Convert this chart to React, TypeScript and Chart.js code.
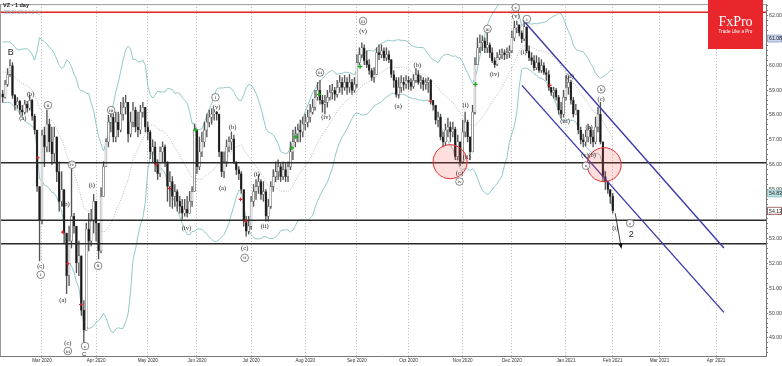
import React, { useEffect, useRef } from "react";
import { Chart, registerables } from "chart.js";
Chart.register(...registerables);

// ---- DATA ----
const priorCloses = [59.3, 59.6, 60.1, 60.5, 60.8, 60.4, 60.0, 59.5, 59.1, 59.4, 59.9, 60.3, 60.7, 60.2, 59.6, 59.2, 59.0, 58.9, 59.3];
const firstOpen = 58.85;
const closes = [
  58.71, 59.23, 59.63, 59.99, 58.79, 58.39, 58.55, 58.19, 58.11, 58.43,
  58.27, 58.59, 57.95, 57.39, 55.11, 53.75, 57.19, 56.71, 57.63, 56.91,
  56.43, 57.11, 55.71, 54.51, 54.99, 53.23, 51.51, 52.91, 53.91, 53.51,
  52.03, 52.31, 50.11, 49.31, 53.39, 52.91, 53.71, 54.51, 53.63, 52.51,
  54.71, 55.91, 56.91, 57.71, 57.91, 57.11, 57.71, 57.39, 58.03, 58.31,
  58.51, 57.23, 57.71, 58.19, 57.51, 57.39, 58.11, 58.31, 57.51, 57.31,
  56.51, 56.71, 56.03, 55.63, 56.51, 56.71, 56.11, 55.11, 55.31, 54.71,
  54.91, 54.51, 54.31, 54.03, 54.19, 54.03, 54.51, 54.91, 57.39, 55.91,
  56.51, 56.91, 57.39, 57.71, 57.91, 58.03, 58.11, 58.03, 56.51, 55.71,
  56.11, 56.71, 56.91, 57.03, 56.11, 55.79, 55.63, 54.99, 53.71, 53.31,
  53.51, 54.51, 54.91, 55.11, 55.31, 54.79, 54.91, 53.91, 54.31, 55.11,
  55.51, 55.71, 55.91, 55.51, 55.79, 55.51, 55.91, 56.51, 56.91, 57.23,
  57.39, 57.31, 57.63, 57.71, 57.91, 58.11, 58.31, 58.71, 58.99, 58.59,
  58.43, 58.51, 58.71, 58.91, 58.99, 58.83, 59.11, 59.31, 59.11, 59.31,
  59.11, 59.31, 58.99, 59.23, 60.11, 60.43, 60.71, 60.19, 60.03, 59.79,
  59.51, 59.63, 60.51, 60.43, 60.59, 60.31, 60.43, 60.23, 59.63, 59.39,
  58.83, 59.11, 59.31, 59.23, 59.39, 59.31, 59.15, 59.39, 59.63, 59.31,
  59.39, 59.23, 59.31, 59.39, 58.59, 58.39, 57.79, 57.91, 57.11, 56.91,
  57.39, 57.51, 57.31, 57.43, 56.31, 56.91, 56.11, 57.31, 57.71, 57.11,
  56.51, 58.11, 60.03, 60.71, 60.91, 60.99, 60.71, 60.83, 60.51, 60.19,
  60.03, 60.31, 60.43, 60.51, 60.43, 60.51, 60.59, 61.11, 61.51, 61.63,
  61.31, 61.07, 61.55, 60.59, 60.31, 60.19, 59.91, 60.11, 59.79, 59.99,
  59.71, 59.63, 59.11, 58.91, 58.99, 58.71, 58.19, 58.03, 58.71, 59.11,
  59.31, 58.59, 58.03, 58.19, 57.39, 56.99, 56.91, 57.11, 57.39, 57.11,
  56.91, 57.51, 58.03, 56.91, 55.51, 55.31, 54.99, 54.71, 54.13
];
const highs = [
  58.99, 59.39, 59.87, 60.23, 60.11, 58.83, 58.71, 58.59, 58.39, 58.59,
  58.55, 58.79, 58.63, 58.03, 57.31, 54.31, 57.39, 57.51, 58.19, 57.83,
  57.51, 57.51, 57.11, 56.11, 55.71, 54.31, 52.91, 53.51, 55.83, 54.03,
  53.51, 52.91, 51.31, 50.51, 53.63, 54.03, 54.19, 54.79, 54.51, 53.39,
  55.07, 56.11, 57.03, 57.99, 58.19, 58.03, 58.11, 58.11, 58.51, 58.71,
  58.79, 58.51, 58.11, 58.51, 58.31, 58.11, 58.39, 58.51, 58.31, 57.71,
  57.39, 56.99, 56.91, 56.19, 56.71, 56.91, 56.79, 56.11, 55.71, 55.51,
  55.19, 54.99, 54.71, 54.59, 54.59, 54.71, 54.91, 55.11, 57.63, 57.31,
  57.11, 57.31, 57.71, 58.03, 58.19, 58.25, 58.2, 58.15, 57.91, 56.51,
  56.51, 56.99, 57.11, 57.31, 57.19, 56.11, 55.91, 55.71, 54.71, 53.91,
  53.91, 54.71, 55.19, 55.39, 55.59, 55.39, 55.31, 54.99, 54.59, 55.31,
  55.79, 56.11, 56.19, 56.03, 56.11, 56.03, 56.11, 56.91, 57.39, 57.51,
  57.63, 57.79, 57.91, 58.03, 58.19, 58.43, 58.63, 58.99, 59.31, 59.39,
  58.79, 58.79, 58.99, 59.19, 59.23, 59.11, 59.39, 59.59, 59.51, 59.59,
  59.51, 59.63, 59.43, 59.51, 60.43, 60.71, 60.91, 60.83, 60.59, 60.23,
  59.87, 59.91, 60.71, 60.83, 60.83, 60.71, 60.71, 60.59, 60.03, 59.79,
  59.51, 59.51, 59.59, 59.51, 59.59, 59.55, 59.47, 59.63, 59.87, 59.79,
  59.59, 59.51, 59.47, 59.51, 59.43, 58.59, 58.19, 58.11, 58.03, 57.31,
  57.63, 57.87, 57.71, 57.71, 57.51, 57.19, 56.91, 57.79, 58.11, 57.79,
  57.11, 58.39, 60.31, 61.11, 61.23, 61.19, 61.11, 61.31, 60.91, 60.71,
  60.31, 60.51, 60.63, 60.67, 60.63, 60.71, 60.79, 61.39, 61.79, 61.79,
  61.63, 61.39, 61.75, 61.47, 60.79, 60.51, 60.39, 60.39, 60.31, 60.23,
  60.11, 59.87, 59.79, 59.11, 59.11, 59.07, 58.79, 58.51, 58.99, 59.59,
  59.55, 59.39, 58.71, 58.43, 58.19, 57.51, 57.23, 57.39, 57.63, 57.51,
  57.39, 57.91, 58.31, 58.51, 56.71, 55.71, 55.31, 54.99, 54.83
];
const lows = [
  58.51, 58.67, 59.15, 59.55, 58.67, 58.19, 58.27, 58.03, 57.95, 58.03,
  58.11, 58.19, 57.79, 57.23, 54.91, 52.11, 53.6, 55.91, 56.51, 56.51,
  55.99, 56.11, 55.31, 54.11, 54.31, 52.79, 50.79, 51.11, 52.63, 53.23,
  51.63, 51.51, 49.91, 48.83, 49.71, 52.51, 52.71, 53.23, 52.91, 52.19,
  52.43, 54.71, 55.91, 56.71, 57.31, 56.91, 56.91, 57.11, 57.31, 57.79,
  58.03, 56.91, 57.11, 57.51, 57.31, 57.11, 57.23, 57.91, 57.31, 56.99,
  56.23, 56.11, 55.71, 55.39, 55.51, 56.11, 55.91, 54.51, 54.31, 54.23,
  54.31, 54.11, 54.03, 53.79, 53.91, 53.87, 54.11, 54.31, 54.91, 55.63,
  55.79, 56.31, 56.71, 57.11, 57.51, 57.63, 57.79, 57.79, 56.31, 55.51,
  55.47, 55.91, 56.51, 56.59, 56.03, 55.59, 55.39, 54.83, 53.51, 53.11,
  53.19, 53.39, 54.31, 54.59, 54.83, 54.59, 54.51, 53.71, 53.71, 54.23,
  54.91, 55.31, 55.39, 55.31, 55.39, 55.31, 55.31, 55.79, 56.19, 56.71,
  56.91, 56.91, 57.11, 57.39, 57.51, 57.71, 58.03, 58.19, 58.59, 58.43,
  58.11, 58.03, 58.31, 58.59, 58.63, 58.59, 58.71, 58.91, 58.83, 58.99,
  58.83, 58.91, 58.83, 58.91, 59.11, 60.03, 60.31, 60.03, 59.91, 59.63,
  59.39, 59.31, 59.63, 60.23, 60.31, 60.19, 60.19, 60.11, 59.51, 59.11,
  58.71, 58.67, 58.91, 58.99, 59.07, 59.03, 58.99, 59.07, 59.31, 59.23,
  59.07, 58.99, 59.03, 58.91, 58.43, 58.19, 57.63, 57.51, 56.99, 56.71,
  56.79, 57.11, 56.91, 57.11, 56.19, 56.19, 55.95, 56.03, 57.11, 56.91,
  56.19, 56.51, 58.03, 60.03, 60.51, 60.59, 60.51, 60.51, 60.31, 60.11,
  59.91, 59.99, 60.23, 60.27, 60.23, 60.27, 60.31, 60.51, 60.99, 61.31,
  61.19, 60.91, 60.99, 60.51, 60.19, 60.03, 59.79, 59.83, 59.71, 59.71,
  59.63, 59.39, 58.99, 58.79, 58.67, 58.59, 58.03, 57.87, 57.91, 58.59,
  58.83, 58.43, 57.91, 58.03, 57.23, 56.83, 56.71, 56.75, 56.91, 56.83,
  56.71, 56.83, 57.31, 56.83, 55.31, 54.99, 54.83, 54.43, 54.03
];

const monthTickIdx = [16, 38, 59, 79, 101, 123, 144, 165, 187, 207, 229, 248, 267, 290];
const monthTickLabels = ["Mar 2020", "Apr 2020", "May 2020", "Jun 2020", "Jul 2020", "Aug 2020", "Sep 2020", "Oct 2020", "Nov 2020", "Dec 2020", "Jan 2021", "Feb 2021", "Mar 2021", "Apr 2021"];

const redLevel = 62.14;
const blackLevels = [56.07, 53.75, 52.8];
const channelUpper = [{ x: 211.5, y: 61.83 }, { x: 293.2, y: 52.63 }];
const channelLower = [{ x: 211.1, y: 59.19 }, { x: 293.2, y: 50.03 }];
const circleCenters = [{ x: 181.9, y: 56.11 }, { x: 244.5, y: 55.99 }];
const greenMarks = [{ x: 78.4, y: 57.39 }, { x: 117.6, y: 56.67 }, { x: 119.2, y: 57.11 }, { x: 128.6, y: 58.83 }, { x: 145.3, y: 59.95 }, { x: 192.2, y: 59.23 }];
const redMarks = [{ x: 14.3, y: 56.27 }, { x: 24.5, y: 53.27 }, { x: 26.5, y: 51.99 }, { x: 31.8, y: 50.35 }, { x: 62.4, y: 55.99 }, { x: 67.8, y: 55.03 }, { x: 96.7, y: 54.59 }, { x: 98.8, y: 53.71 }, { x: 173.9, y: 58.55 }, { x: 222.4, y: 59.19 }];
const arrowPath = [{ x: 249, y: 54.03 }, { x: 251.4, y: 52.67 }];
const lastPrice = 54.13;
const axisTags = [
  { v: 61.08, fill: "#c9d6ee", stroke: "#8796b8" },
  { v: 54.83, fill: "#bfe3e3", stroke: "#7fb8b8" },
  { v: 54.13, fill: "#ffffff", stroke: "#7a3030" }
];

// k: "c" circled, "L" large sans, "M" medium sans, default bracket serif
const waveLabels = [
  { x: 3.3, y: 60.51, t: "B", k: "L" },
  { x: 8.2, y: 57.87, t: "(a)" },
  { x: 11.4, y: 58.83, t: "(b)" },
  { x: 18.4, y: 58.39, t: "ii", k: "c" },
  { x: 15.5, y: 51.91, t: "(c)" },
  { x: 15.5, y: 51.55, t: "i", k: "c" },
  { x: 28.2, y: 55.99, t: "iv", k: "c" },
  { x: 25.7, y: 54.39, t: "(b)" },
  { x: 24.5, y: 50.51, t: "(a)" },
  { x: 26.5, y: 48.79, t: "(c)" },
  { x: 26.5, y: 48.47, t: "iii", k: "c" },
  { x: 33.5, y: 48.67, t: "v", k: "c" },
  { x: 33.1, y: 48.33, t: "C", k: "M" },
  { x: 36.3, y: 55.15, t: "(i)" },
  { x: 38.8, y: 51.91, t: "ii", k: "c" },
  { x: 44.1, y: 58.19, t: "iii", k: "c" },
  { x: 74.7, y: 53.43, t: "(iv)" },
  { x: 86.5, y: 58.71, t: "i", k: "c" },
  { x: 87.0, y: 58.31, t: "(v)" },
  { x: 89.4, y: 55.03, t: "(a)" },
  { x: 93.5, y: 57.51, t: "(b)" },
  { x: 98.4, y: 52.63, t: "(c)" },
  { x: 98.4, y: 52.23, t: "ii", k: "c" },
  { x: 103.3, y: 55.59, t: "(i)" },
  { x: 106.5, y: 53.51, t: "(ii)" },
  { x: 129, y: 59.71, t: "iii", k: "c" },
  { x: 131.4, y: 57.91, t: "(iv)" },
  { x: 146.5, y: 61.79, t: "iii", k: "c" },
  { x: 146.5, y: 61.39, t: "(v)" },
  { x: 160.8, y: 58.35, t: "(a)" },
  { x: 168.6, y: 59.99, t: "(b)" },
  { x: 185.7, y: 55.63, t: "(c)" },
  { x: 185.7, y: 55.31, t: "iv", k: "c" },
  { x: 188.2, y: 58.39, t: "(i)" },
  { x: 188.6, y: 56.27, t: "(ii)" },
  { x: 197.1, y: 61.47, t: "iii", k: "c" },
  { x: 200, y: 59.63, t: "(iv)" },
  { x: 208.6, y: 62.33, t: "v", k: "c" },
  { x: 208.6, y: 61.99, t: "(v)" },
  { x: 213.1, y: 61.87, t: "i", k: "c" },
  { x: 211.8, y: 60.51, t: "(i)" },
  { x: 228.6, y: 57.75, t: "(iii)" },
  { x: 230.6, y: 59.55, t: "(ii)" },
  { x: 238.4, y: 57.51, t: "(a)" },
  { x: 236.7, y: 56.35, t: "(v)" },
  { x: 239.6, y: 56.35, t: "(b)" },
  { x: 237.1, y: 55.95, t: "a", k: "c" },
  { x: 243.3, y: 59.03, t: "b", k: "c" },
  { x: 243.3, y: 58.63, t: "(c)" },
  { x: 249, y: 53.43, t: "(i)" },
  { x: 255.1, y: 53.63, t: "c", k: "c" },
  { x: 255.5, y: 53.19, t: "2", k: "L" }
];

const X_MIN = -1.07;
const X_MAX = 310.3;
const Y_MIN = 48.27;
const Y_MAX = 62.47;

function bollinger(all: number[], n: number, k: number, offset: number) {
  const up: { x: number; y: number }[] = [];
  const mid: { x: number; y: number }[] = [];
  const lo: { x: number; y: number }[] = [];
  for (let i = offset; i < all.length; i++) {
    const win = all.slice(Math.max(0, i - n + 1), i + 1);
    const m = win.reduce((s, v) => s + v, 0) / win.length;
    const sd = Math.sqrt(win.reduce((s, v) => s + (v - m) * (v - m), 0) / win.length);
    const xi = i - offset;
    up.push({ x: xi, y: m + k * sd });
    mid.push({ x: xi, y: m });
    lo.push({ x: xi, y: m - k * sd });
  }
  return { up, mid, lo };
}

const overlayPlugin = {
  id: "overlay",
  beforeDraw(chart: any) {
    const { ctx, width, height } = chart;
    ctx.save();
    ctx.fillStyle = "#ffffff";
    ctx.fillRect(0, 0, width, height);
    ctx.restore();
  },
  afterDraw(chart: any) {
    const { ctx, chartArea: a, scales } = chart;
    const xs = scales.x;
    const ys = scales.y;
    ctx.save();
    // frame
    ctx.strokeStyle = "#9a9a9a";
    ctx.lineWidth = 1;
    ctx.beginPath();
    ctx.moveTo(a.left, a.top + 0.5);
    ctx.lineTo(a.right, a.top + 0.5);
    ctx.moveTo(a.left + 0.5, a.top);
    ctx.lineTo(a.left + 0.5, a.bottom);
    ctx.stroke();

    // wave labels
    ctx.textAlign = "center";
    ctx.textBaseline = "middle";
    for (const l of waveLabels) {
      const px = xs.getPixelForValue(l.x);
      const py = ys.getPixelForValue(l.y);
      if (l.k === "c") {
        ctx.beginPath();
        ctx.arc(px, py, 3.8, 0, Math.PI * 2);
        ctx.fillStyle = "rgba(255,255,255,0.85)";
        ctx.fill();
        ctx.strokeStyle = "#555";
        ctx.lineWidth = 0.7;
        ctx.stroke();
        ctx.fillStyle = "#222";
        ctx.font = '5px "Liberation Serif"';
        ctx.fillText(l.t, px, py + 0.3);
      } else if (l.k === "L") {
        ctx.fillStyle = "#222";
        ctx.font = '9px "Liberation Sans"';
        ctx.fillText(l.t, px, py);
      } else if (l.k === "M") {
        ctx.fillStyle = "#222";
        ctx.font = '6px "Liberation Sans"';
        ctx.fillText(l.t, px, py);
      } else {
        ctx.fillStyle = "#222";
        ctx.font = '6.5px "Liberation Serif"';
        ctx.fillText(l.t, px, py);
      }
    }

    // arrow head
    const ax0 = xs.getPixelForValue(arrowPath[0].x);
    const ay0 = ys.getPixelForValue(arrowPath[0].y);
    const ax1 = xs.getPixelForValue(arrowPath[1].x);
    const ay1 = ys.getPixelForValue(arrowPath[1].y);
    const ang = Math.atan2(ay1 - ay0, ax1 - ax0);
    ctx.fillStyle = "#111";
    ctx.beginPath();
    ctx.moveTo(ax1 + Math.cos(ang) * 2, ay1 + Math.sin(ang) * 2);
    ctx.lineTo(ax1 + Math.cos(ang + 2.6) * 4, ay1 + Math.sin(ang + 2.6) * 4);
    ctx.lineTo(ax1 + Math.cos(ang - 2.6) * 4, ay1 + Math.sin(ang - 2.6) * 4);
    ctx.closePath();
    ctx.fill();

    // title texts
    ctx.textAlign = "left";
    ctx.textBaseline = "middle";
    ctx.fillStyle = "#222";
    ctx.font = 'bold 5.5px "Liberation Sans"';
    ctx.fillText("VZ - 1 day", 3, 5.5);
    ctx.fillStyle = "#8fb3b8";
    ctx.font = '4.6px "Liberation Sans"';
    ctx.fillText("BB(20,20,2.0,2.0)", 4, 13);

    // logo
    ctx.fillStyle = "#e8262c";
    ctx.fillRect(708, 0, 55, 49);
    ctx.fillStyle = "#ffffff";
    ctx.textAlign = "center";
    ctx.font = '14px "Liberation Serif"';
    ctx.fillText("FxPro", 735.5, 22);
    ctx.font = '4.6px "Liberation Sans"';
    ctx.fillText("Trade Like a Pro", 735.5, 31.5);

    // axis price tags
    ctx.textAlign = "left";
    ctx.font = '5.2px "Liberation Sans"';
    ctx.lineWidth = 0.7;
    for (const tg of axisTags) {
      const ty = ys.getPixelForValue(tg.v);
      ctx.fillStyle = tg.fill;
      ctx.strokeStyle = tg.stroke;
      ctx.beginPath();
      ctx.rect(767.5, ty - 3.5, 14, 7);
      ctx.fill();
      ctx.stroke();
      ctx.fillStyle = "#222";
      ctx.fillText(tg.v.toFixed(2), 769, ty + 0.3);
    }
    ctx.restore();
  }
};

export default function App() {
  const ref = useRef<HTMLCanvasElement | null>(null);
  useEffect(() => {
    document.body.style.margin = "0";
    const canvas = ref.current;
    if (!canvas) return;
    const opens = closes.map((c, i) => (i === 0 ? firstOpen : closes[i - 1]));
    const bodies = closes.map((c, i) => ({ x: i, y: [opens[i], c] }));
    const wicks = closes.map((c, i) => ({ x: i, y: [Math.min(lows[i], opens[i], c), Math.max(highs[i], opens[i], c)] }));
    const bodyColors = closes.map((c, i) => (c >= opens[i] ? "#ffffff" : "#1a1a1a"));
    const bb = bollinger(priorCloses.concat(closes), 20, 2, priorCloses.length);
    const yTicks: number[] = [];
    for (let i = 0; i <= 70; i++) yTicks.push(Math.round((48.4 + i * 0.2) * 10) / 10);
    const hl = (v: number) => [{ x: X_MIN, y: v }, { x: X_MAX, y: v }];

    const chart = new Chart(canvas, {
      type: "bar",
      data: {
        datasets: [
          { type: "line", data: greenMarks, showLine: false, pointStyle: "cross", pointRadius: 2.2, borderColor: "#1fa31f", borderWidth: 1.3, order: 0 } as any,
          { type: "line", data: redMarks, showLine: false, pointStyle: "cross", pointRadius: 1.8, borderColor: "#d42020", borderWidth: 1.1, order: 0 } as any,
          { type: "line", data: arrowPath, borderColor: "#111", borderWidth: 0.8, pointRadius: 0, order: 0 } as any,
          { type: "line", data: circleCenters, showLine: false, pointRadius: 17, pointBackgroundColor: "rgba(255,70,70,0.18)", pointBorderColor: "#e53030", pointBorderWidth: 1, order: 1 } as any,
          { type: "line", data: channelUpper, borderColor: "#3b3ba8", borderWidth: 1.4, pointRadius: 0, order: 2 } as any,
          { type: "line", data: channelLower, borderColor: "#3b3ba8", borderWidth: 1.4, pointRadius: 0, order: 2 } as any,
          { type: "line", data: hl(redLevel), borderColor: "#e02424", borderWidth: 1.4, pointRadius: 0, order: 3 } as any,
          ...blackLevels.map((v) => ({ type: "line", data: hl(v), borderColor: "#2a2a2a", borderWidth: 1.4, pointRadius: 0, order: 3 } as any)),
          { type: "bar", data: bodies, backgroundColor: bodyColors, borderColor: "#444", borderWidth: 0.5, borderSkipped: false, barThickness: 1.9, grouped: false, order: 4 } as any,
          { type: "bar", data: wicks, backgroundColor: "#555", borderWidth: 0, barThickness: 0.7, grouped: false, order: 5 } as any,
          { type: "line", data: bb.up, borderColor: "#86c2c2", borderWidth: 0.9, pointRadius: 0, order: 6 } as any,
          { type: "line", data: bb.lo, borderColor: "#86c2c2", borderWidth: 0.9, pointRadius: 0, order: 6 } as any,
          { type: "line", data: bb.mid, borderColor: "#9a9a9a", borderWidth: 0.7, borderDash: [1, 1.5], pointRadius: 0, order: 7 } as any
        ]
      },
      options: {
        responsive: false,
        animation: false,
        events: [],
        layout: { autoPadding: false, padding: { top: 1, left: 0, right: 0, bottom: 0 } },
        plugins: { legend: { display: false }, tooltip: { enabled: false } },
        scales: {
          x: {
            type: "linear",
            min: X_MIN,
            max: X_MAX,
            offset: false,
            afterBuildTicks: (s: any) => {
              s.ticks = monthTickIdx.map((v) => ({ value: v }));
            },
            afterFit: (s: any) => {
              s.height = 10;
            },
            ticks: {
              autoSkip: false,
              maxRotation: 0,
              padding: 0,
              font: { size: 4.6, family: "Liberation Sans" },
              color: "#333",
              callback: (v: any) => {
                const k = monthTickIdx.indexOf(Number(v));
                return k >= 0 ? monthTickLabels[k] : "";
              }
            },
            grid: { offset: false, color: "#a8a8a8", lineWidth: 0.8, tickLength: 2 },
            border: { color: "#777", dash: [1, 2] }
          },
          y: {
            type: "linear",
            position: "right",
            min: Y_MIN,
            max: Y_MAX,
            afterBuildTicks: (s: any) => {
              s.ticks = yTicks.map((v) => ({ value: v }));
            },
            afterFit: (s: any) => {
              s.width = 16;
            },
            ticks: {
              autoSkip: false,
              padding: 1,
              font: { size: 5.2, family: "Liberation Sans" },
              color: "#444",
              callback: (v: any) => (Math.abs(Number(v) - Math.round(Number(v))) < 1e-6 ? Number(v).toFixed(2) : "")
            },
            grid: { drawOnChartArea: false, color: "#777", tickLength: 2 },
            border: { color: "#777" }
          }
        }
      },
      plugins: [overlayPlugin]
    } as any);
    return () => chart.destroy();
  }, []);
  return <canvas ref={ref} width={782} height={366} style={{ display: "block" }} />;
}
